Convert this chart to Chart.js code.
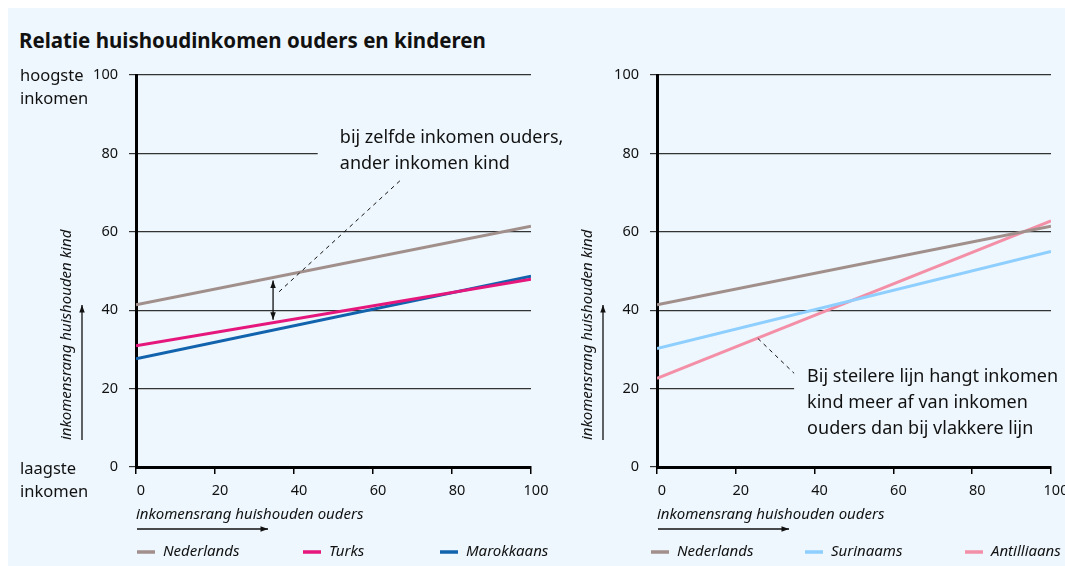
<!DOCTYPE html>
<html>
<head>
<meta charset="utf-8">
<script src="https://cdn.jsdelivr.net/npm/chart.js@4/dist/chart.umd.min.js"></script>
<style>
  html, body { margin: 0; padding: 0; background: #fff; width: 1065px; height: 566px; overflow: hidden; }
  #panel { position: absolute; left: 8px; top: 8px; width: 1057px; height: 558px; background: #eef7fd; }
  #title { position: absolute; left: 19px; top: 26px; font: bold 20.5px "Noto Sans", sans-serif; color: #111; }
  canvas { position: absolute; top: 0; }
  #left { left: 0; }
  #right { left: 560px; }
</style>
</head>
<body>
<div id="panel"></div>
<div id="title">Relatie huishoudinkomen ouders en kinderen</div>
<canvas id="left" width="590" height="566"></canvas>
<canvas id="right" width="520" height="566"></canvas>
<script>
// data (lines are straight, two ends each)
const xValues = [0, 100];
const xTicks = [0, 20, 40, 60, 80, 100];
const yTicks = [0, 20, 40, 60, 80, 100];

const leftNames = ['Nederlands', 'Turks', 'Marokkaans'];
const nederlands = [41.4, 61.4];
const turks = [30.9, 47.9];
const marokkaans = [27.6, 48.7];

const rightNames = ['Nederlands', 'Surinaams', 'Antilliaans'];
const surinaams = [30.2, 55.0];
const antilliaans = [22.6, 62.8];

const colors = {
  Nederlands: '#a08f8b',
  Turks: '#e5177d',
  Marokkaans: '#1263ad',
  Surinaams: '#8ecfff',
  Antilliaans: '#f38fa7'
};

const BG = '#eef7fd';
const INK = '#111';
const FONT = '"Noto Sans", sans-serif';

function arrowHead(ctx, x, y, ang, size) {
  ctx.beginPath();
  ctx.moveTo(x, y);
  ctx.lineTo(x - size * Math.cos(ang - 0.35), y - size * Math.sin(ang - 0.35));
  ctx.lineTo(x - size * Math.cos(ang + 0.35), y - size * Math.sin(ang + 0.35));
  ctx.closePath();
  ctx.fill();
}

function arrow(ctx, x1, y1, x2, y2, both) {
  const ang = Math.atan2(y2 - y1, x2 - x1);
  ctx.beginPath();
  ctx.moveTo(x1, y1);
  ctx.lineTo(x2, y2);
  ctx.stroke();
  arrowHead(ctx, x2, y2, ang, 8);
  if (both) arrowHead(ctx, x1, y1, ang + Math.PI, 8);
}

// axis titles, arrows, notes and legend
const decor = {
  id: 'decor',
  afterDraw(chart, args, o) {
    const { ctx, chartArea: a, scales: { x, y } } = chart;
    ctx.save();
    ctx.fillStyle = INK;
    ctx.strokeStyle = INK;

    // notes, with a patch of background behind them
    (o.notes || []).forEach(n => {
      const px = x.getPixelForValue(n.x), py = y.getPixelForValue(n.y);
      const cx = x.getPixelForValue(n.coverX);
      ctx.fillStyle = BG;
      ctx.fillRect(cx, py - 14, a.right + 2 - cx, (n.lines.length - 1) * 26 + 28);
      ctx.fillStyle = INK;
      ctx.font = '18px ' + FONT;
      ctx.textAlign = 'left';
      ctx.textBaseline = 'middle';
      n.lines.forEach((t, i) => ctx.fillText(t, px, py + i * 26));
      ctx.setLineDash([4, 4]);
      ctx.lineWidth = 1;
      ctx.beginPath();
      ctx.moveTo(x.getPixelForValue(n.lead[0]), y.getPixelForValue(n.lead[1]));
      ctx.lineTo(x.getPixelForValue(n.lead[2]), y.getPixelForValue(n.lead[3]));
      ctx.stroke();
      ctx.setLineDash([]);
    });

    // gap arrow between two series
    if (o.gap) {
      const g = o.gap, ds = chart.data.datasets;
      const at = d => {
        const p = d.data;
        return p[0].y + (p[1].y - p[0].y) * (g.x - p[0].x) / (p[1].x - p[0].x);
      };
      const gx = x.getPixelForValue(g.x);
      ctx.lineWidth = 1.3;
      arrow(ctx, gx, y.getPixelForValue(at(ds[g.from])) + 3, gx, y.getPixelForValue(at(ds[g.to])) - 3, true);
    }

    // y title + arrow
    ctx.font = 'italic 15px ' + FONT;
    ctx.textAlign = 'left';
    ctx.textBaseline = 'middle';
    ctx.save();
    ctx.translate(a.left - 69, a.bottom - 27);
    ctx.rotate(-Math.PI / 2);
    ctx.fillText('inkomensrang huishouden kind', 0, 0);
    ctx.restore();
    ctx.lineWidth = 1.3;
    arrow(ctx, a.left - 54, a.bottom - 27, a.left - 54, a.bottom - 162, false);

    // x title + arrow
    ctx.fillText('inkomensrang huishouden ouders', a.left, a.bottom + 48);
    arrow(ctx, a.left + 1, a.bottom + 62, a.left + 132, a.bottom + 62, false);

    // extremes on the left chart
    if (o.ends) {
      ctx.font = '16.5px ' + FONT;
      const top = y.getPixelForValue(100), bot = y.getPixelForValue(0);
      ctx.fillText('hoogste', 20, top + 1);
      ctx.fillText('inkomen', 20, top + 24);
      ctx.fillText('laagste', 20, bot + 2);
      ctx.fillText('inkomen', 20, bot + 25);
    }

    // legend
    ctx.font = 'italic 15px ' + FONT;
    const ly = a.bottom + 85;
    chart.data.datasets.forEach((d, i) => {
      const lx = a.left + o.legendX[i];
      ctx.strokeStyle = d.borderColor;
      ctx.lineWidth = 3.5;
      ctx.beginPath();
      ctx.moveTo(lx, ly);
      ctx.lineTo(lx + 18, ly);
      ctx.stroke();
      ctx.fillStyle = INK;
      ctx.fillText(d.label, lx + 26, ly);
    });
    ctx.restore();
  }
};

function makeChart(id, names, series, leftW, rightPad, decorOpts) {
  const datasets = names.map((name, i) => ({
    label: name,
    data: xValues.map((xv, j) => ({ x: xv, y: series[i][j] })),
    borderColor: colors[name],
    borderWidth: 3,
    pointRadius: 0,
    fill: false
  }));
  const tickFont = { family: FONT, size: 14.5 };
  return new Chart(document.getElementById(id), {
    type: 'line',
    data: { datasets },
    options: {
      responsive: false,
      animation: false,
      layout: { padding: { left: 0, right: rightPad, top: 75, bottom: 0 } },
      plugins: { legend: { display: false }, tooltip: { enabled: false }, decor: decorOpts },
      scales: {
        x: {
          type: 'linear', min: 0, max: 100,
          afterBuildTicks: s => { s.ticks = xTicks.map(v => ({ value: v })); },
          afterFit: s => { s.height = 99; },
          grid: { drawOnChartArea: false, drawTicks: true, tickLength: 7, color: '#000', lineWidth: 1.5 },
          border: { color: '#000', width: 3 },
          ticks: { font: tickFont, color: INK, padding: 8, labelOffset: 5, maxRotation: 0 }
        },
        y: {
          min: 0, max: 100,
          afterBuildTicks: s => { s.ticks = yTicks.map(v => ({ value: v })); },
          afterFit: s => { s.width = leftW; },
          grid: { color: '#333', lineWidth: 1.2, tickLength: 7, drawTicks: true },
          border: { color: '#000', width: 3 },
          ticks: { font: tickFont, color: INK, padding: 11 }
        }
      }
    },
    plugins: [decor]
  });
}

makeChart('left', leftNames, [nederlands, turks, marokkaans], 136, 59, {
  ends: true,
  legendX: [1, 167, 304],
  gap: { x: 34.7, from: 0, to: 1 },
  notes: [{
    lines: ['bij zelfde inkomen ouders,', 'ander inkomen kind'],
    x: 51.6, y: 84, coverX: 46,
    lead: [66.8, 73, 36, 44.5]
  }]
});

makeChart('right', rightNames, [nederlands, surinaams, antilliaans], 97, 29, {
  legendX: [-6, 148, 308],
  notes: [{
    lines: ['Bij steilere lijn hangt inkomen', 'kind meer af van inkomen', 'ouders dan bij vlakkere lijn'],
    x: 38.1, y: 22.9, coverX: 34.8,
    lead: [25.6, 32.8, 34.8, 23.9]
  }]
});
</script>
</body>
</html>
